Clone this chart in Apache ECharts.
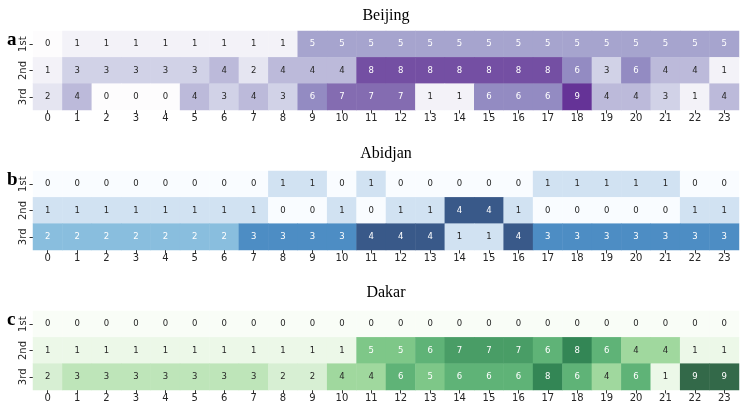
<!DOCTYPE html>
<html>
<head>
<meta charset="utf-8">
<script src="https://cdn.jsdelivr.net/npm/echarts@6/dist/echarts.min.js"></script>
<style>
 html,body{margin:0;padding:0;background:#fff;}
 #main{width:747px;height:409px;}
</style>
</head>
<body>
<div id="main"></div>
<script>
 // 数据
 var hours = ['0','1','2','3','4','5','6','7','8','9','10','11','12','13','14','15','16','17','18','19','20','21','22','23'];
 var ranks = ['1st','2nd','3rd'];
 var cities = ['Beijing','Abidjan','Dakar'];
 var letters = ['a','b','c'];

 var beijing1st = [0,1,1,1,1,1,1,1,1,5,5,5,5,5,5,5,5,5,5,5,5,5,5,5];
 var beijing2nd = [1,3,3,3,3,3,4,2,4,4,4,8,8,8,8,8,8,8,6,3,6,4,4,1];
 var beijing3rd = [2,4,0,0,0,4,3,4,3,6,7,7,7,1,1,6,6,6,9,4,4,3,1,4];

 var abidjan1st = [0,0,0,0,0,0,0,0,1,1,0,1,0,0,0,0,0,1,1,1,1,1,0,0];
 var abidjan2nd = [1,1,1,1,1,1,1,1,0,0,1,0,1,1,4,4,1,0,0,0,0,0,1,1];
 var abidjan3rd = [2,2,2,2,2,2,2,3,3,3,3,4,4,4,1,1,4,3,3,3,3,3,3,3];

 var dakar1st = [0,0,0,0,0,0,0,0,0,0,0,0,0,0,0,0,0,0,0,0,0,0,0,0];
 var dakar2nd = [1,1,1,1,1,1,1,1,1,1,1,5,5,6,7,7,7,6,8,6,4,4,1,1];
 var dakar3rd = [2,3,3,3,3,3,3,3,2,2,4,4,6,5,6,6,6,8,6,4,6,1,9,9];

 var colorMax = [9, 4, 9];

 // 颜色 (Purples / Blues / Greens)
 var purples = ['#fcfbfd','#efedf5','#dadaeb','#bcbddc','#9e9ac8','#807dba','#6a51a3','#54278f','#3f007d'];
 var blues   = ['#f7fbff','#deebf7','#c6dbef','#9ecae1','#6baed6','#4292c6','#2171b5','#08519c','#08306b'];
 var greens  = ['#f7fcf5','#e5f5e0','#c7e9c0','#a1d99b','#74c476','#41ab5d','#238b45','#006d2c','#00441b'];
 var darkTextMax = [4, 1, 4];   // 大于此值用白色文字

 // alpha 0.8 叠加白底
 function fade(list){
	return list.map(function(c){
		var r = parseInt(c.substr(1,2),16), g = parseInt(c.substr(3,2),16), b = parseInt(c.substr(5,2),16);
		function f(v){ var s = Math.round(v*0.8 + 255*0.2).toString(16); return s.length < 2 ? '0'+s : s; }
		return '#' + f(r) + f(g) + f(b);
	});
 }
 var cmaps = [fade(purples), fade(blues), fade(greens)];

 var tables = [
	[beijing1st, beijing2nd, beijing3rd],
	[abidjan1st, abidjan2nd, abidjan3rd],
	[dakar1st, dakar2nd, dakar3rd]
 ];

 var gridTops = [31, 171, 311];
 var titleTops = [3, 141, 280];

 var option = {
	backgroundColor: '#fff',
	animation: false,
	title: [],
	grid: [],
	xAxis: [],
	yAxis: [],
	visualMap: [],
	series: []
 };

 for (var i = 0; i < 3; i++) {
	var rows = tables[i];
	var data = [];
	for (var r = 0; r < rows.length; r++) {
		for (var h = 0; h < rows[r].length; h++) {
			data.push([h, r, rows[r][h]]);
		}
	}
	option.title.push({
		text: cities[i],
		left: 381,
		top: titleTops[i],
		textAlign: 'center',
		textStyle: {fontFamily: 'Liberation Serif', fontSize: 16, fontWeight: 'normal', color: '#000'}
	});
	option.title.push({
		text: letters[i],
		left: 2,
		top: gridTops[i] - 5,
		textStyle: {fontFamily: 'Liberation Serif', fontSize: 19, fontWeight: 'bold', color: '#000'}
	});
	option.grid.push({left: 33, top: gridTops[i], width: 706, height: 79});
	option.xAxis.push({
		type: 'category',
		gridIndex: i,
		data: hours,
		splitArea: {show: false},
		axisLine: {show: false},
		axisTick: {show: true, alignWithLabel: true, length: 3.5, lineStyle: {color: '#333'}},
		axisLabel: {fontFamily: 'DejaVu Sans', fontSize: 10, color: '#262626', margin: 3}
	});
	option.yAxis.push({
		type: 'category',
		gridIndex: i,
		data: ranks,
		inverse: true,
		splitArea: {show: false},
		axisLine: {show: false},
		axisTick: {show: true, alignWithLabel: true, length: 3.5, lineStyle: {color: '#333'}},
		axisLabel: {fontFamily: 'DejaVu Sans', fontSize: 10, color: '#262626', margin: 5, rotate: 90}
	});
	option.visualMap.push({
		show: false,
		type: 'continuous',
		min: 0,
		max: colorMax[i],
		seriesIndex: i,
		dimension: 2,
		inRange: {color: cmaps[i]}
	});
	(function(th){
		option.series.push({
			type: 'heatmap',
			xAxisIndex: i,
			yAxisIndex: i,
			data: data,
			label: {
				show: true,
				fontFamily: 'DejaVu Sans',
				formatter: function(p){
					var v = p.value[2];
					return '{' + (v > th ? 'w' : 'd') + '|' + v + '}';
				},
				rich: {
					w: {color: '#ffffff', fontSize: 8.5, fontFamily: 'DejaVu Sans'},
					d: {color: '#262626', fontSize: 8.5, fontFamily: 'DejaVu Sans'}
				}
			},
			emphasis: {disabled: true}
		});
	})(darkTextMax[i]);
 }

 var myChart = echarts.init(document.getElementById('main'), null, {renderer: 'canvas'});
 myChart.setOption(option);
</script>
</body>
</html>
